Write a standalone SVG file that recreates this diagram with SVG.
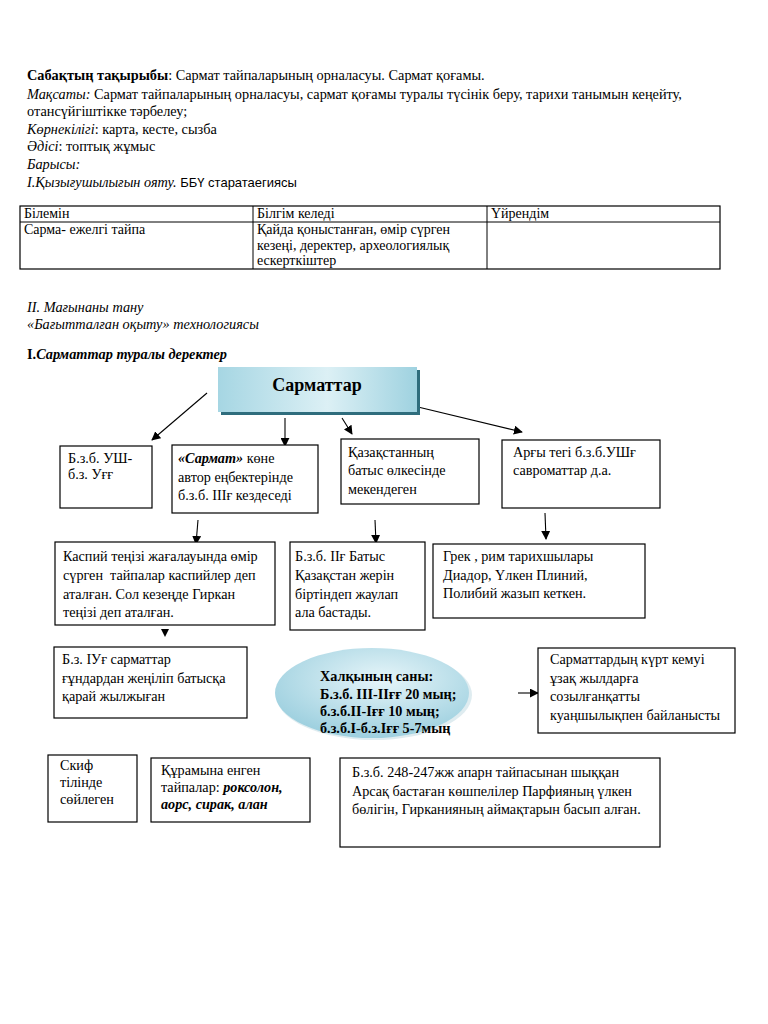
<svg xmlns="http://www.w3.org/2000/svg" width="768" height="1024" viewBox="0 0 768 1024">
<defs>
<style>
text{font-family:"Liberation Serif","Times New Roman",serif;font-size:14.2px;fill:#000}
.h{font-size:14.3px}
.t{font-size:14px}
.b{font-weight:bold}
.i{font-style:italic}
.sans{font-family:"Liberation Sans",Arial,sans-serif;font-size:13px}
.box{fill:#fff;stroke:#000;stroke-width:1.2}
.ln{stroke:#000;stroke-width:1;fill:none}
.conn line{stroke:#000;stroke-width:1.1;marker-end:url(#ah)}
</style>
<marker id="ah" viewBox="0 0 10 10" refX="9" refY="5" markerWidth="9" markerHeight="9" markerUnits="userSpaceOnUse" orient="auto">
<path d="M0,0 L10,5 L0,10 z" fill="#000"/>
</marker>
<linearGradient id="hg" x1="0" y1="0" x2="1" y2="0">
<stop offset="0" stop-color="#a6d6e3"/>
<stop offset="0.55" stop-color="#dcf0f5"/>
<stop offset="1" stop-color="#9fd2e0"/>
</linearGradient>
<radialGradient id="eg" cx="0.55" cy="0.35" r="0.7">
<stop offset="0" stop-color="#e6f5f9"/>
<stop offset="1" stop-color="#98cddd"/>
</radialGradient>
</defs>
<rect width="768" height="1024" fill="#fff"/>

<g id="header" class="h">
<text class="h" x="27" y="80"><tspan class="b">Сабақтың тақырыбы</tspan>: Сармат тайпаларының орналасуы. Сармат қоғамы.</text>
<text class="h" x="27" y="99"><tspan class="i">Мақсаты:</tspan> Сармат тайпаларының орналасуы, сармат қоғамы туралы түсінік беру, тарихи танымын кеңейту,</text>
<text class="h" x="27" y="116">отансүйгіштікке тәрбелеу;</text>
<text class="h" x="27" y="134"><tspan class="i">Көрнекілігі</tspan>: карта, кесте, сызба</text>
<text class="h" x="27" y="151"><tspan class="i">Әдісі</tspan>: топтық жұмыс</text>
<text class="h i" x="27" y="169">Барысы:</text>
<text class="h" x="27" y="187"><tspan class="i">І.Қызығушылығын ояту.</tspan> <tspan class="sans">ББҮ старатаегиясы</tspan></text>
</g>

<g id="table">
<rect x="20" y="206" width="700" height="63" fill="none" stroke="#000" stroke-width="1.2"/>
<line class="ln" x1="20" y1="222" x2="720" y2="222"/>
<line class="ln" x1="253" y1="206" x2="253" y2="269"/>
<line class="ln" x1="487" y1="206" x2="487" y2="269"/>
<text class="t" x="24" y="218">Білемін</text>
<text class="t" x="257" y="218">Білгім келеді</text>
<text class="t" x="491" y="218">Үйрендім</text>
<text class="t" x="24" y="234">Сарма- ежелгі тайпа</text>
<text class="t" x="257" y="234">Қайда қоныстанған, өмір сүрген</text>
<text class="t" x="257" y="250">кезеңі, деректер, археологиялық</text>
<text class="t" x="257" y="265">ескерткіштер</text>
</g>

<g id="section">
<text class="h i" x="27" y="312">II. Мағынаны тану</text>
<text class="h i" x="27" y="329">«Бағытталған оқыту» технологиясы</text>
<text class="h b" x="27" y="359">І.<tspan class="i">Сарматтар туралы деректер</tspan></text>
</g>

<g id="conn" class="conn">
<line x1="207" y1="393" x2="152" y2="440"/>
<line x1="285" y1="418" x2="285" y2="446"/>
<line x1="342" y1="418" x2="352" y2="434"/>
<line x1="418" y1="407" x2="522" y2="432"/>
<line x1="198" y1="520" x2="196" y2="544"/>
<line x1="375" y1="520" x2="376" y2="543"/>
<line x1="545" y1="513" x2="546" y2="539"/>
<line x1="518" y1="693" x2="538" y2="693"/>
<path d="M161,629 L169,629 L165,637 z" fill="#000"/>
</g>

<g id="root">
<rect x="221" y="370" width="199" height="45" fill="#2f6d7d"/>
<rect x="218" y="367" width="199" height="45" fill="url(#hg)"/>
<text x="317" y="391" text-anchor="middle" class="b" style="font-size:18px">Сарматтар</text>
</g>

<g id="n1">
<rect class="box" x="60" y="446" width="92" height="62"/>
<text x="68" y="463">Б.з.б. УШ-</text>
<text x="68" y="479">б.з. Уғғ</text>
</g>
<g id="n2">
<rect class="box" x="172" y="445" width="146" height="68"/>
<text x="178" y="463"><tspan class="b i">«Сармат»</tspan> көне</text>
<text x="178" y="482">автор еңбектерінде</text>
<text x="178" y="500">б.з.б. ІІІғ кездеседі</text>
</g>
<g id="n3">
<rect class="box" x="341" y="439" width="138" height="65"/>
<text x="348" y="457">Қазақстанның</text>
<text x="348" y="475">батыс өлкесінде</text>
<text x="348" y="494">мекендеген</text>
</g>
<g id="n4">
<rect class="box" x="502" y="440" width="158" height="68"/>
<text x="513" y="457">Арғы тегі б.з.б.УШғ</text>
<text x="513" y="475">савроматтар д.а.</text>
</g>

<g id="n5">
<rect class="box" x="55" y="542" width="220" height="83"/>
<text x="63" y="561">Каспий теңізі жағалауында өмір</text>
<text x="63" y="580">сүрген&#160; тайпалар каспийлер деп</text>
<text x="63" y="599">аталған. Сол кезеңде Гиркан</text>
<text x="63" y="617">теңізі деп аталған.</text>
</g>
<g id="n6">
<rect class="box" x="290" y="542" width="135" height="88"/>
<text x="295" y="561">Б.з.б. ІІғ Батыс</text>
<text x="295" y="580">Қазақстан жерін</text>
<text x="295" y="599">біртіндеп жаулап</text>
<text x="295" y="617">ала бастады.</text>
</g>
<g id="n7">
<rect class="box" x="433" y="544" width="212" height="74"/>
<text x="443" y="561">Грек , рим тарихшылары</text>
<text x="443" y="580">Диадор, Үлкен Плиний,</text>
<text x="443" y="598">Полибий жазып кеткен.</text>
</g>

<g id="n8">
<rect class="box" x="54" y="647" width="193" height="71"/>
<text x="62" y="664">Б.з. ІУғ сарматтар</text>
<text x="62" y="683">ғұндардан жеңіліп батысқа</text>
<text x="62" y="701">қарай жылжыған</text>
</g>
<g id="n9">
<ellipse cx="374" cy="695" rx="98" ry="45" fill="#c9dfe6" opacity="0.6"/>
<ellipse cx="372" cy="693" rx="97" ry="45" fill="url(#eg)"/>
<text x="320" y="681" class="b">Халқының саны:</text>
<text x="320" y="699" class="b">Б.з.б. ІІІ-ІІғғ 20 мың;</text>
<text x="320" y="716" class="b">б.з.б.ІІ-Іғғ 10 мың;</text>
<text x="320" y="733" class="b">б.з.б.І-б.з.Іғғ 5-7мың</text>
</g>
<g id="n10">
<rect class="box" x="538" y="648" width="197" height="85"/>
<text x="550" y="664">Сарматтардың күрт кемуі</text>
<text x="550" y="683">ұзақ жылдарға</text>
<text x="550" y="701">созылғанқатты</text>
<text x="550" y="720">куаңшылықпен байланысты</text>
</g>

<g id="n11">
<rect class="box" x="48" y="755" width="89" height="67"/>
<text x="60" y="770">Скиф</text>
<text x="60" y="787">тілінде</text>
<text x="60" y="804">сөйлеген</text>
</g>
<g id="n12">
<rect class="box" x="151" y="758" width="159" height="64"/>
<text x="161" y="775">Құрамына енген</text>
<text x="161" y="792">тайпалар: <tspan class="b i">роксолон,</tspan></text>
<text x="161" y="809" class="b i">аорс, сирак, алан</text>
</g>
<g id="n13">
<rect class="box" x="340" y="758" width="320" height="89"/>
<text x="352" y="777">Б.з.б. 248-247жж апарн тайпасынан шыққан</text>
<text x="352" y="796">Арсақ бастаған көшпелілер Парфияның үлкен</text>
<text x="352" y="814">бөлігін, Гирканияның аймақтарын басып алған.</text>
</g>
</svg>
